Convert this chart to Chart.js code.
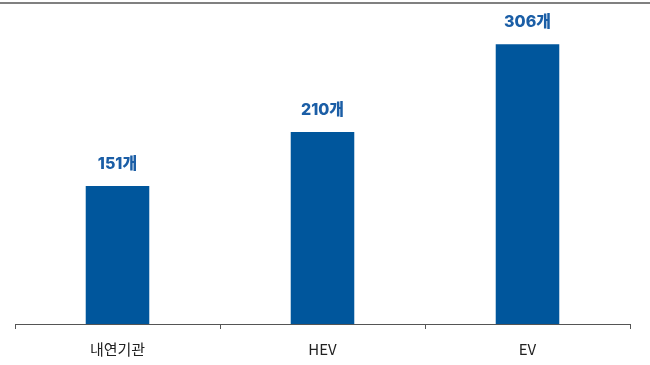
<!DOCTYPE html>
<html>
<head>
<meta charset="utf-8">
<script src="https://cdn.jsdelivr.net/npm/chart.js@4"></script>
<style>
  html, body { margin: 0; padding: 0; background: #fff; }
  #wrap { width: 650px; height: 365px; position: relative; }
</style>
</head>
<body>
<div id="wrap"><canvas id="c"></canvas></div>
<script>
// Number of parts by powertrain type
const categories = ['내연기관', 'HEV', 'EV'];
const partCounts = [151, 210, 306];
const valueSuffix = '개';

const barColor = '#00569c';
const labelColor = '#1b5ea6';

// Thin gray rule across the top of the figure
const topRule = {
  id: 'topRule',
  beforeDraw(chart) {
    const ctx = chart.ctx;
    ctx.save();
    ctx.fillStyle = '#808080';
    ctx.fillRect(0, 2, chart.width, 2);
    ctx.restore();
  }
};

// Value labels above each bar
const valueLabels = {
  id: 'valueLabels',
  afterDatasetsDraw(chart) {
    const ctx = chart.ctx;
    const meta = chart.getDatasetMeta(0);
    ctx.save();
    ctx.fillStyle = labelColor;
    ctx.font = '800 16px Inter, "Noto Sans CJK KR", sans-serif';
    ctx.textAlign = 'center';
    ctx.textBaseline = 'middle';
    meta.data.forEach((bar, i) => {
      ctx.fillText(partCounts[i] + valueSuffix, bar.x, bar.y - 22);
    });
    ctx.restore();
  }
};

new Chart(document.getElementById('c'), {
  type: 'bar',
  data: {
    labels: categories,
    datasets: [{
      data: partCounts,
      backgroundColor: barColor,
      categoryPercentage: 1,
      barPercentage: 0.31
    }]
  },
  options: {
    responsive: true,
    maintainAspectRatio: false,
    animation: false,
    layout: { padding: { top: 4, left: 15, right: 20, bottom: 0 } },
    plugins: { legend: { display: false }, tooltip: { enabled: false } },
    scales: {
      x: {
        offset: true,
        afterFit(scale) { scale.height = 41; },
        grid: {
          offset: true,
          drawOnChartArea: false,
          drawTicks: true,
          tickLength: 5,
          color: '#555'
        },
        border: { display: true, color: '#555', width: 1 },
        ticks: {
          color: '#222',
          padding: 11,
          font: { family: '"Noto Sans CJK KR", "Noto Sans", sans-serif', size: 15 }
        }
      },
      y: {
        display: false,
        min: 0,
        max: 350
      }
    }
  },
  plugins: [topRule, valueLabels]
});
</script>
</body>
</html>
